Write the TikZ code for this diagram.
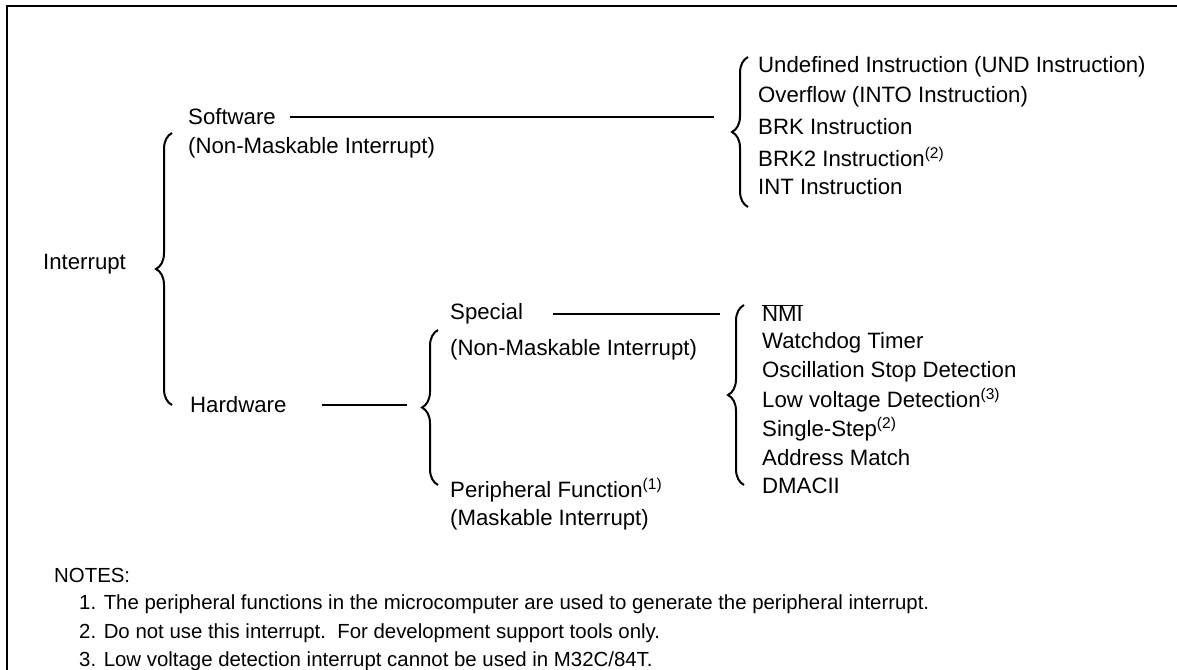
\documentclass[tikz,border=0pt]{standalone}
\usepackage{fontspec}
\setmainfont{Liberation Sans}
\usetikzlibrary{decorations.pathreplacing}

\newcommand{\nref}[1]{\textsuperscript{(#1)}}

\begin{document}
\begin{tikzpicture}[x=1pt,y=-1pt,
  lbl/.style={anchor=west,inner sep=0pt,font=\fontsize{22.2}{26}\selectfont},
  note/.style={anchor=west,inner sep=0pt,font=\fontsize{20.4}{24}\selectfont},
  brc/.style={decorate,decoration={brace,amplitude=16pt},line width=2pt},
  conn/.style={line width=2.2pt}]
\useasboundingbox (0,0) rectangle (1177,669);
\draw[line width=2.2pt] (1180,6) -- (7,6) -- (7,672);

% tree
\node[lbl] (intr) at (43,264) {Interrupt};
\node[lbl] (sw) at (188,117) {Software};
\node[lbl] (swnm) at (188,148) {(Non-Maskable Interrupt)};
\node[lbl] (hw) at (190,405) {Hardware};
\node[lbl] (spc) at (450,314) {Special};
\node[lbl] (spcnm) at (450,350) {(Non-Maskable Interrupt)};
\node[lbl] (per) at (450,490) {Peripheral Function\nref{1}};
\node[lbl] (perm) at (450,520) {(Maskable Interrupt)};

% software sources
\node[lbl] (und) at (758,67) {Undefined Instruction (UND Instruction)};
\node[lbl] (ovf) at (758,97) {Overflow (INTO Instruction)};
\node[lbl] (brk) at (758,127) {BRK Instruction};
\node[lbl] (brk2) at (758,157) {BRK2 Instruction\nref{2}};
\node[lbl] (int) at (758,187) {INT Instruction};

% special sources
\node[lbl] (nmi) at (762,313) {$\overline{\hbox{NMI}}$};
\node[lbl] (wdt) at (762,343) {Watchdog Timer};
\node[lbl] (osc) at (762,372) {Oscillation Stop Detection};
\node[lbl] (lvd) at (762,400) {Low voltage Detection\nref{3}};
\node[lbl] (sstep) at (762,429) {Single-Step\nref{2}};
\node[lbl] (adr) at (762,458) {Address Match};
\node[lbl] (dma) at (762,486) {DMACII};

% braces
\draw[brc] (172,405) -- (172,133);
\draw[brc] (748,207) -- (748,57);
\draw[brc] (438,485) -- (438,330);
\draw[brc] (744,485) -- (744,305);

% connectors
\coordinate (swend) at (714,117);
\coordinate (hwend) at (407,405);
\coordinate (spcend) at (720,314);
\draw[conn] ([xshift=14pt]sw.east) -- (swend);
\draw[conn] ([xshift=35pt]hw.east) -- (hwend);
\draw[conn] ([xshift=30pt]spc.east) -- (spcend);

% notes
\node[note] (nt) at (54,575) {NOTES:};
\node[note] (nt1) at (79,604) {1. The peripheral functions in the microcomputer are used to generate the peripheral interrupt.};
\node[note] (nt2) at (79,633) {2. Do not use this interrupt.\ \ For development support tools only.};
\node[note] (nt3) at (79,661) {3. Low voltage detection interrupt cannot be used in M32C/84T.};
\end{tikzpicture}
\end{document}
